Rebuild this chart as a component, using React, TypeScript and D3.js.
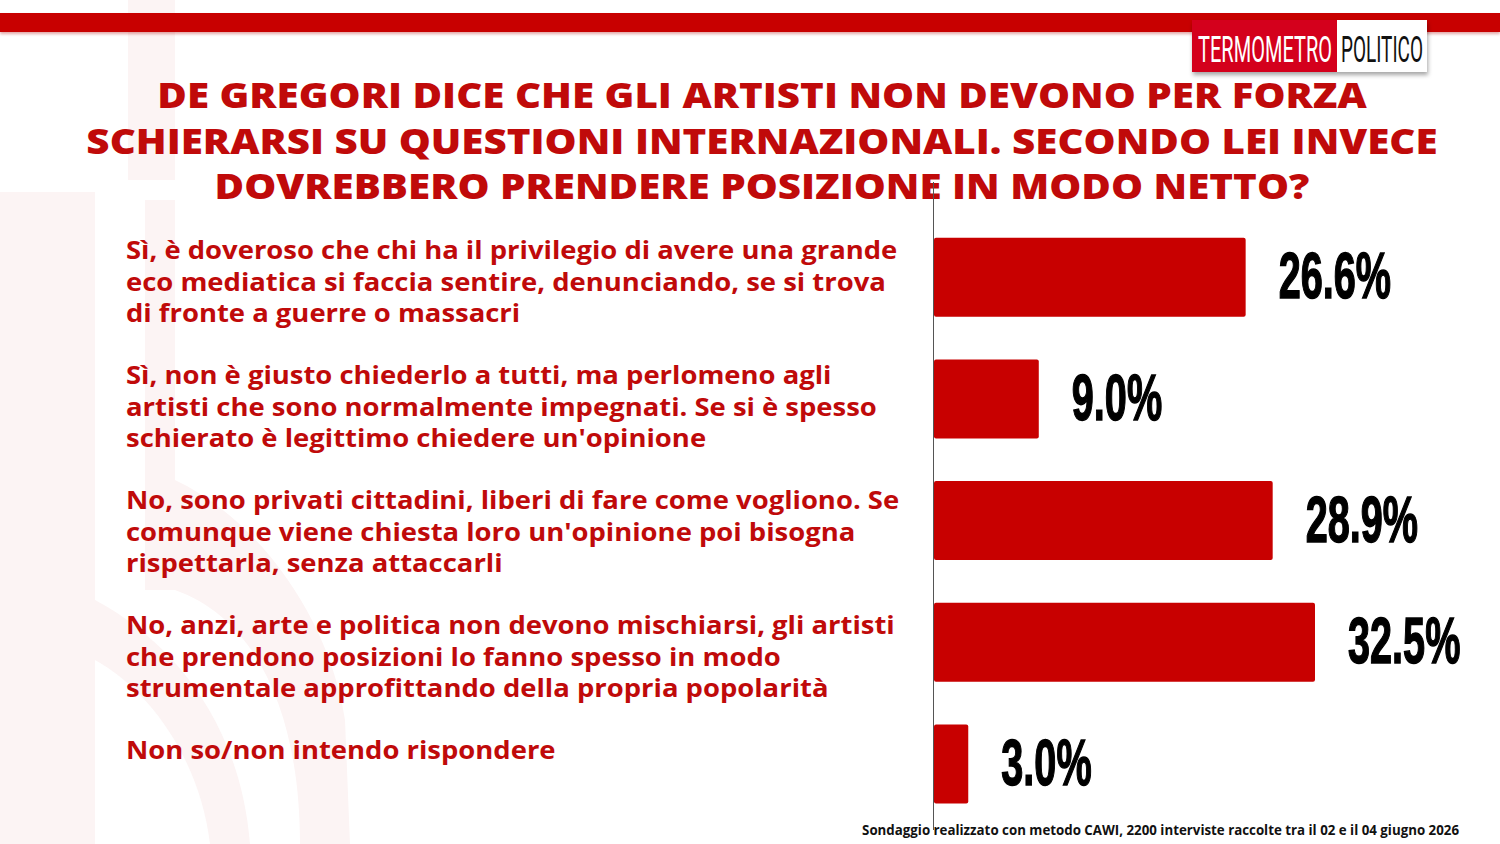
import React from "react";
import * as d3 from "d3";

const categories: string[][] = [
  ["Sì, è doveroso che chi ha il privilegio di avere una grande", "eco mediatica si faccia sentire, denunciando, se si trova", "di fronte a guerre o massacri"],
  ["Sì, non è giusto chiederlo a tutti, ma perlomeno agli", "artisti che sono normalmente impegnati. Se si è spesso", "schierato è legittimo chiedere un'opinione"],
  ["No, sono privati cittadini, liberi di fare come vogliono. Se", "comunque viene chiesta loro un'opinione poi bisogna", "rispettarla, senza attaccarli"],
  ["No, anzi, arte e politica non devono mischiarsi, gli artisti", "che prendono posizioni lo fanno spesso in modo", "strumentale approfittando della propria popolarità"],
  ["Non so/non intendo rispondere"],
];
const values: number[] = [26.6, 9.0, 28.9, 32.5, 3.0];
const titleLines: string[] = [
  "DE GREGORI DICE CHE GLI ARTISTI NON DEVONO PER FORZA",
  "SCHIERARSI SU QUESTIONI INTERNAZIONALI. SECONDO LEI INVECE",
  "DOVREBBERO PRENDERE POSIZIONE IN MODO NETTO?",
];
const footer = "Sondaggio realizzato con metodo CAWI, 2200 interviste raccolte tra il 02 e il 04 giugno 2026";

const W = 1500;
const H = 844;
const RED = "#C80000";
const TEXT_RED = "#C00A0A";

export default function App() {
  const idx = values.map((_, i) => String(i));
  const yb = d3.scaleBand<string>().domain(idx).range([216.35, 216.35 + 121.7 * 5]).paddingInner(0.351).paddingOuter(0.1755);
  const x = d3.scaleLinear().domain([0, 32.5]).range([933, 1315]);
  const yl = d3.scalePoint<string>().domain(idx).range([250, 750]);

  return (
    <svg width={W} height={H} style={{ position: "absolute", left: 0, top: 0, display: "block", background: "#fff" }}>
      <defs>
        <filter id="sh" x="-10%" y="-10%" width="130%" height="150%">
          <feDropShadow dx="1" dy="3" stdDeviation="2" floodColor="#000" floodOpacity="0.35" />
        </filter>
        <filter id="bandsh" x="0" y="-50%" width="100%" height="250%">
          <feDropShadow dx="0" dy="2" stdDeviation="1.5" floodColor="#a00" floodOpacity="0.35" />
        </filter>
      </defs>
      {/* watermark */}
      <g fill="#fcf4f4">
        <rect x={0} y={192} width={95} height={652} />
        <rect x={128} y={0} width={47} height={180} />
        <path d="M145,200 L175,200 L175,480 C260,520 330,620 345,720 L350,844 L300,844 C300,720 260,620 175,590 L145,590 Z" />
        <path d="M95,600 C170,640 240,720 250,844 L210,844 C200,760 150,690 95,660 Z" />
      </g>
      {/* top band */}
      <rect x={0} y={13} width={W} height={19} fill={RED} filter="url(#bandsh)" />
      {/* logo */}
      <g filter="url(#sh)">
        <rect x={1192} y={20} width={146} height={52} fill="#D4001A" />
        <rect x={1337} y={20} width={90} height={52} fill="#fff" />
      </g>
      <text x={1198} y={62} fill="#fff" fontFamily="'Liberation Sans Narrow', 'Roboto', sans-serif" fontSize={36} textLength={134} lengthAdjust="spacingAndGlyphs">TERMOMETRO</text>
      <text x={1341} y={62} fill="#111" fontFamily="'Liberation Sans Narrow', 'Roboto', sans-serif" fontSize={36} textLength={82} lengthAdjust="spacingAndGlyphs">POLITICO</text>
      {/* title */}
      {titleLines.map((t, i) => (
        <text key={i} transform={`translate(762,${108 + i * 45.5}) scale(1.12,1)`} textAnchor="middle" fill={TEXT_RED} fontFamily="'Open Sans', sans-serif" fontWeight={800} fontSize={36}>{t}</text>
      ))}
      {/* axis line */}
      <line x1={933.5} x2={933.5} y1={182} y2={830} stroke="#555" strokeWidth={1} />
      {/* bars */}
      {values.map((v, i) => (
        <rect key={i} x={x(0) + 1} y={yb(String(i))} width={x(v) - x(0) - 1} height={yb.bandwidth()} fill={RED} rx={2} />
      ))}
      {/* value labels */}
      {values.map((v, i) => {
        const cx = x(v) + 33;
        const cy = (yb(String(i)) as number) + yb.bandwidth() / 2 + 21;
        return (
          <text key={i} transform={`translate(${cx},${cy}) scale(0.61,1)`} fill="#000" stroke="#000" strokeWidth={1.5} fontFamily="'Liberation Sans Narrow', 'Liberation Sans', sans-serif" fontWeight={700} fontSize={65}>
            {v.toFixed(1)}%
          </text>
        );
      })}
      {/* category labels */}
      {categories.map((lines, i) => (
        <g key={i}>
          {lines.map((l, j) => (
            <text key={j} transform={`translate(126,${(yl(String(i)) as number) + 9 + j * 31.5}) scale(1.12,1)`} fill={TEXT_RED} fontFamily="'Open Sans', sans-serif" fontWeight={700} fontSize={24.5}>{l}</text>
          ))}
        </g>
      ))}
      {/* footer */}
      <text x={1459} y={835} textAnchor="end" fill="#111" fontFamily="'Open Sans', sans-serif" fontWeight={700} fontSize={13.3}>{footer}</text>
    </svg>
  );
}
